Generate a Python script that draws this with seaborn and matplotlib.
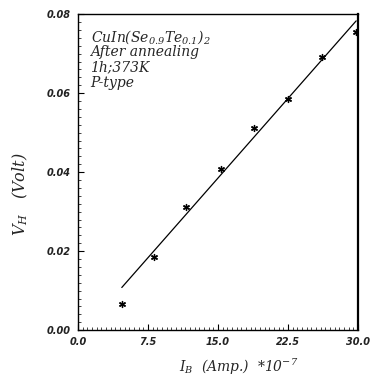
import numpy as np
import pandas as pd
import matplotlib
matplotlib.use("Agg")
import matplotlib.pyplot as plt
import seaborn as sns
from matplotlib.ticker import MultipleLocator

# Data
current = [4.7, 8.1, 11.6, 15.3, 18.9, 22.5, 26.1, 29.8]          # I_B *1e-7 A
voltage = [0.0065, 0.0184, 0.0311, 0.0408, 0.0511, 0.0585, 0.0692, 0.0754]  # V_H (V)
fit_x = [4.7, 29.8]
fit_y = [0.0108, 0.0783]
xticks = [0.0, 7.5, 15.0, 22.5, 30.0]
yticks = [0.00, 0.02, 0.04, 0.06, 0.08]
notes = [r"CuIn(Se$_{0.9}$Te$_{0.1}$)$_2$", "After annealing", "1h;373K", "P-type"]

sns.set_theme(style="ticks")
plt.rcParams["mathtext.fontset"] = "custom"
plt.rcParams["mathtext.it"] = "DejaVu Serif:italic"
plt.rcParams["mathtext.rm"] = "DejaVu Serif:italic"
plt.rcParams["mathtext.bf"] = "DejaVu Serif:italic:bold"

fig = plt.figure(figsize=(3.71, 3.83), dpi=100)
ax = fig.add_axes([0.210, 0.138, 0.755, 0.825])

df = pd.DataFrame({"I": current, "V": voltage})
fit = pd.DataFrame({"I": fit_x, "V": fit_y})
sns.lineplot(data=fit, x="I", y="V", ax=ax, color="black", lw=0.9)
sns.scatterplot(data=df, x="I", y="V", ax=ax, marker=(6, 2, 0), s=18, color="black",
                edgecolor="black", linewidth=1.0)

ax.set_xlim(0, 30)
ax.set_ylim(0, 0.08)
ax.set_xticks(xticks)
ax.set_yticks(yticks)
ax.set_xticklabels([f"{t:.1f}" for t in xticks])
ax.set_yticklabels([f"{t:.2f}" for t in yticks])
ax.xaxis.set_minor_locator(MultipleLocator(0.5))
ax.yaxis.set_minor_locator(MultipleLocator(0.002))
ax.tick_params(which="major", direction="in", length=4, width=0.8, colors="black",
               top=False, right=False, pad=5)
ax.tick_params(which="minor", direction="in", length=2.5, width=0.6, top=False, right=False)
for lab in ax.get_xticklabels() + ax.get_yticklabels():
    lab.set_fontsize(7)
    lab.set_fontstyle("italic")
    lab.set_fontweight("bold")
    lab.set_family("DejaVu Sans")
    lab.set_color("#222222")

for side in ["left", "bottom", "top"]:
    ax.spines[side].set_linewidth(1.0)
    ax.spines[side].set_color("black")
ax.spines["right"].set_linewidth(1.6)
ax.spines["right"].set_color("black")

ax.set_xlabel(r"$I_B$  (Amp.)  *10$^{-7}$", fontsize=10, family="DejaVu Serif",
              fontstyle="italic")
ax.set_ylabel(r"$V_H$   (Volt)", fontsize=11.5, family="DejaVu Serif",
              fontstyle="italic")
ax.xaxis.set_label_coords(0.575, -0.085)
ax.yaxis.set_label_coords(-0.17, 0.43)

for i, t in enumerate(notes):
    ax.text(0.045, 0.927 - i * 0.048, t, transform=ax.transAxes, fontsize=10,
            family="DejaVu Serif", fontstyle="italic", va="center", ha="left")

fig.savefig("out.png", dpi=100)
